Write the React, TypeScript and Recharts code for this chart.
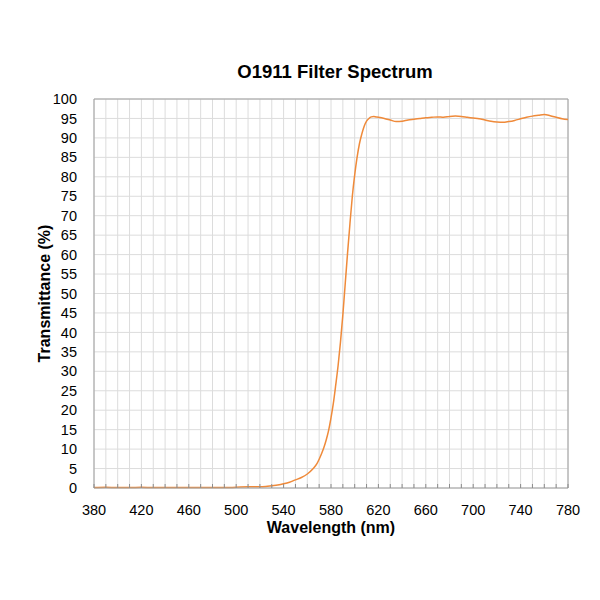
import { CartesianGrid, Line, LineChart, ReferenceLine, XAxis, YAxis } from "recharts";

const WAVELENGTHS = [
  380, 390, 400, 410, 420, 430, 440, 450, 460, 470, 480, 490, 500, 510, 520, 525, 530, 535, 540, 545,
  550, 555, 560, 565, 568, 570, 572, 574, 576, 578, 580, 582, 584, 586, 588, 590, 592, 594, 596, 598,
  600, 602, 604, 606, 608, 610, 612, 614, 616, 618, 620, 625, 630, 635, 640, 645, 650, 655, 660, 665,
  670, 675, 680, 685, 690, 695, 700, 705, 710, 715, 720, 725, 730, 735, 740, 745, 750, 755, 760, 765,
  770, 775, 780
];

const TRANSMITTANCE = [
  0.1, 0.2, 0.1, 0.1, 0.2, 0.1, 0.1, 0.1, 0.1, 0.1, 0.1, 0.1, 0.2, 0.3, 0.3, 0.4, 0.6, 0.8, 1.1, 1.5,
  2.1, 2.7, 3.6, 5.0, 6.2, 7.4, 8.8, 10.4, 12.4, 14.8, 18.0, 21.8, 26.5, 31.5, 37.5, 44.5, 52.5, 60.5, 68.0, 75.0,
  80.5, 85.0, 88.5, 91.0, 93.0, 94.3, 95.0, 95.4, 95.5, 95.4, 95.3, 95.0, 94.6, 94.2, 94.3, 94.6, 94.8, 95.0, 95.2, 95.3,
  95.4, 95.3, 95.5, 95.6, 95.5, 95.3, 95.1, 94.9, 94.6, 94.3, 94.1, 94.0, 94.2, 94.5, 94.9, 95.3, 95.6, 95.8, 96.0, 95.7,
  95.3, 94.9, 94.7
];

const X_TICKS = [380, 390, 400, 410, 420, 430, 440, 450, 460, 470, 480, 490, 500, 510, 520, 530, 540, 550, 560, 570, 580, 590, 600, 610, 620, 630, 640, 650, 660, 670, 680, 690, 700, 710, 720, 730, 740, 750, 760, 770, 780];
const X_LABELS = [380, 420, 460, 500, 540, 580, 620, 660, 700, 740, 780];
const Y_TICKS = [0, 5, 10, 15, 20, 25, 30, 35, 40, 45, 50, 55, 60, 65, 70, 75, 80, 85, 90, 95, 100];

const data = WAVELENGTHS.map((w, i) => ({ w, t: TRANSMITTANCE[i] }));

const FONT = "'Liberation Sans', Arial, sans-serif";

function XTick(props: any) {
  const { x, y, payload } = props;
  const show = X_LABELS.includes(payload.value);
  return (
    <g>
      <line x1={x} y1={y} x2={x} y2={y - 4} stroke="#8c8c8c" strokeWidth={1} />
      {show && (
        <text x={x} y={y + 27} textAnchor="middle" fontSize={14.5} fill="#000" fontFamily={FONT}>
          {payload.value}
        </text>
      )}
    </g>
  );
}

export default function App() {
  return (
    <div style={{ position: "absolute", left: 0, top: 0, width: 600, height: 600, background: "#fff", fontFamily: FONT }}>
      <div
        style={{
          position: "absolute",
          left: 225,
          width: 220,
          top: 61,
          textAlign: "center",
          fontWeight: "bold",
          fontSize: 18.5,
          color: "#000"
        }}
      >
        O1911 Filter Spectrum
      </div>
      <LineChart
        width={600}
        height={600}
        data={data}
        margin={{ top: 99, right: 32, left: 40, bottom: 52 }}
      >
        <CartesianGrid stroke="#dcdcdc" strokeWidth={1} />
        <XAxis
          dataKey="w"
          type="number"
          domain={[380, 780]}
          ticks={X_TICKS}
          interval={0}
          height={60}
          tickSize={0}
          tickMargin={0}
          tickLine={false}
          tick={<XTick />}
          stroke="#a0a0a0"
          label={{
            value: "Wavelength (nm)",
            position: "insideBottom",
            offset: 15,
            style: { fontWeight: "bold", fontSize: 16, fill: "#000", fontFamily: FONT }
          }}
        />
        <YAxis
          type="number"
          domain={[0, 100]}
          ticks={Y_TICKS}
          interval={0}
          width={54}
          tickLine={false}
          tickMargin={11}
          stroke="#a0a0a0"
          tick={{ fontSize: 14.5, fill: "#000", fontFamily: FONT }}
          label={{
            value: "Transmittance (%)",
            angle: -90,
            position: "insideLeft",
            offset: 4,
            style: { textAnchor: "middle", fontWeight: "bold", fontSize: 16, fill: "#000", fontFamily: FONT }
          }}
        />
        <ReferenceLine y={100} stroke="#a0a0a0" />
        <ReferenceLine x={780} stroke="#a0a0a0" />
        <Line
          type="monotone"
          dataKey="t"
          stroke="#ef8a3a"
          strokeWidth={1.5}
          dot={false}
          isAnimationActive={false}
        />
      </LineChart>
    </div>
  );
}
